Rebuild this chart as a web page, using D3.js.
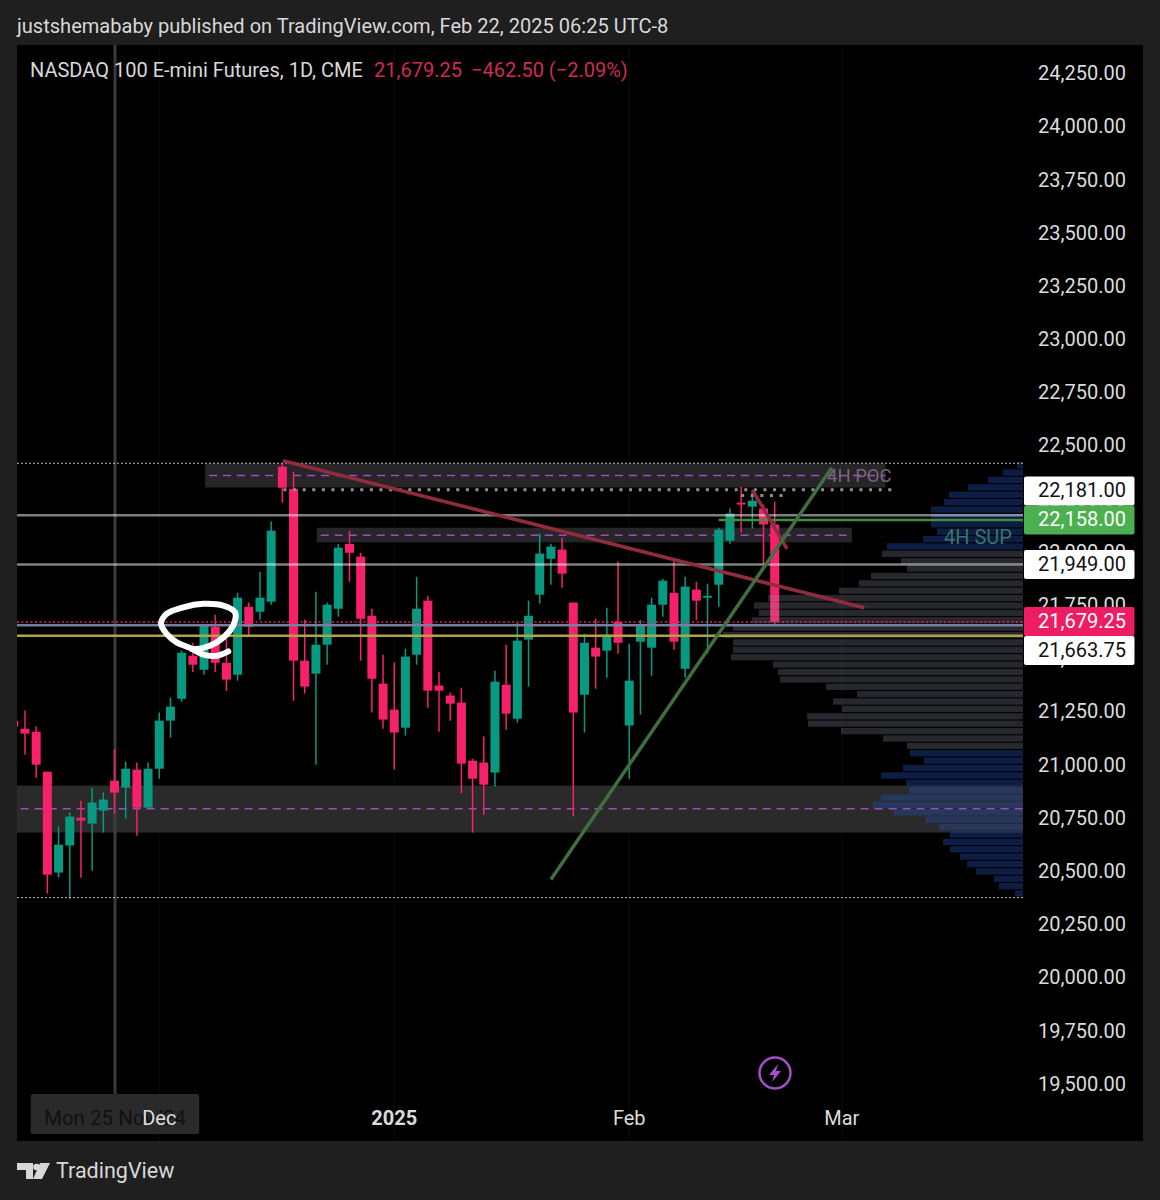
<!DOCTYPE html>
<html>
<head>
<meta charset="utf-8">
<script src="https://cdn.jsdelivr.net/npm/d3@7.9.0/dist/d3.min.js"></script>
<style>
  html, body { margin: 0; padding: 0; background: #1f1f1f; }
  svg { display: block; font-family: Roboto, sans-serif; }
</style>
</head>
<body>
<svg id="chart" width="1160" height="1200"></svg>
<script>
// daily candles: open, high, low, close
const opens = [21215,21177,21163,20975,20501,20628,20759,20731,20792,20933,20900,20985,20806,20989,21215,21318,21520,21454,21656,21487,21431,21750,21727,21774,22409,22305,21497,21436,21572,21741,22046,21986,21708,21389,21267,21182,21525,21779,21380,21333,21300,21027,21018,20971,21384,21224,21596,21807,21976,22019,21770,21337,21558,21544,21680,21192,21586,21558,21760,21816,21459,21831,21793,21854,22061,22240,22221,22212,22137];
const highs = [21215,21263,21187,20975,20717,20783,20839,20900,20877,21079,21022,21018,21018,21253,21323,21544,21581,21670,21713,21600,21816,21770,21915,22151,22423,22385,21690,21821,21770,22046,22108,22004,21741,21525,21488,21553,21891,21802,21445,21347,21370,21036,21140,21450,21572,21676,21779,22094,22047,22075,21770,21623,21694,21746,21962,21577,21689,21793,21882,21967,21891,21868,21859,22122,22212,22315,22296,22231,22245];
const lows = [21187,21055,20947,20402,20477,20378,20477,20510,20689,20778,20754,20674,20806,20942,21135,21304,21444,21431,21444,21355,21403,21614,21689,21760,22240,21309,21342,21008,21478,21704,21868,21497,21253,21177,20985,21145,21478,21276,21163,21215,20872,20689,20773,20905,21172,21206,21375,21765,21854,21840,20764,21159,21365,21417,21530,20942,21243,21426,21704,21548,21417,21689,21530,21751,22047,22099,22118,21948,21661];
const closes = [21187,21154,21008,20491,20632,20764,20745,20830,20844,20877,20989,20806,20989,21215,21281,21534,21478,21666,21487,21408,21793,21656,21793,22108,22310,21497,21375,21572,21760,22028,22004,21694,21412,21220,21159,21516,21741,21356,21356,21295,21013,20942,20914,21398,21248,21591,21708,22000,22033,21906,21253,21581,21516,21619,21581,21403,21661,21760,21873,21586,21845,21779,21802,22113,22188,22231,22249,22137,21679.25];

// volume profile rows, top to bottom
const profileTop = 22433;
const profileStep = 34.72;
const profileVolumes = [6,20,35,55,74,79,92,92,92,86,100,136,141,122,116,152,164,184,255,269,264,271,290,300,290,290,292,250,245,243,197,166,190,181,216,215,182,140,116,113,99,120,142,117,114,142,150,129,97,84,73,80,73,63,56,47,29,24,8];
const profileUpRows = 12;   // blue rows above the value area
const profileLowRows = 20;  // blue rows below it

// axis
const priceTicks = d3.range(19500, 24500, 250);
const timeLabels = [
  { label: 'Dec', index: 13, bold: false },
  { label: '2025', index: 34, bold: true },
  { label: 'Feb', index: 55, bold: false },
  { label: 'Mar', index: 74, bold: false }
];

// drawn levels and boxes
const levelWhite = [22181, 21949];
const levelGreen = 22158;
const levelLast = 21679.25;
const levelBlue = 21663.75;
const levelYellow = 21614;
const rangeHigh = 22425;
const rangeLow = 20383;
const pocDots = 22300;
const pocDots2 = 22273;
const zones = [
  { i0: 17.1, i1: 77.9, high: 22424, low: 22311, mid: 22367, fill: '#272527' },
  { i0: 27.07, i1: 74.9, high: 22122, low: 22053, mid: 22087, fill: '#272527' },
  { i0: -1, i1: 90.2, high: 20910, low: 20689, mid: 20801, fill: '#2a2a2a' }
];
const redTrend = [[24.06, 22437], [76.0, 21746]];
const redShort = [[66, 22300], [69.1, 22023]];
const greenTrend = [[48, 20468], [73.1, 22404]];
const scribble = [[19.17,21541],[18.13,21520],[16.94,21525],[15.75,21557],[14.56,21583],[13.66,21623],[13.16,21670],[13.66,21717],[15.15,21748],[16.94,21764],[18.72,21756],[19.77,21725],[19.77,21685],[19.32,21638],[18.13,21583],[16.94,21557],[15.9,21552]];
const priceLabels = [
  { text: '22,181.00', cy: 491, bg: '#ffffff', fg: '#111' },
  { text: '22,158.00', cy: 520, bg: '#4caf50', fg: '#fff' },
  { text: '21,949.00', cy: 564.5, bg: '#ffffff', fg: '#111' },
  { text: '21,663.75', cy: 650.5, bg: '#ffffff', fg: '#111' },
  { text: '21,679.25', cy: 621.5, bg: '#ee1d63', fg: '#fff' }
];

const up = '#089981', down = '#f7206a';
const plotLeft = 17, panelRight = 1143, plotTop = 45, plotBottom = 1141, plotRight = 1023;

const svg = d3.select('#chart');
const x = d3.scaleLinear().domain([0, 68]).range([13.8, 774.7]);
const y = d3.scaleLinear().domain([24250, 19500]).range([75, 1085.5]);

svg.append('defs').append('clipPath').attr('id', 'plot')
  .append('rect').attr('x', plotLeft).attr('y', plotTop)
  .attr('width', plotRight - plotLeft).attr('height', plotBottom - plotTop);

svg.append('rect').attr('x', plotLeft).attr('y', plotTop)
  .attr('width', panelRight - plotLeft).attr('height', plotBottom - plotTop).attr('fill', '#000');

const plot = svg.append('g').attr('clip-path', 'url(#plot)');

// faint month grid
plot.selectAll('.grid').data(timeLabels).join('line')
  .attr('x1', d => x(d.index)).attr('x2', d => x(d.index))
  .attr('y1', plotTop).attr('y2', plotBottom).attr('stroke', '#0b0b0b');

// boxes
plot.selectAll('.zone').data(zones).join('rect')
  .attr('x', d => x(d.i0)).attr('width', d => x(d.i1) - x(d.i0))
  .attr('y', d => y(d.high)).attr('height', d => y(d.low) - y(d.high))
  .attr('fill', d => d.fill);
plot.selectAll('.zoneMid').data(zones).join('line')
  .attr('x1', d => x(d.i0) + 4).attr('x2', d => x(d.i1))
  .attr('y1', d => y(d.mid)).attr('y2', d => y(d.mid))
  .attr('stroke', '#a04cc0').attr('stroke-width', 1.5).attr('stroke-dasharray', '8 6');

// crosshair
plot.append('line').attr('x1', 115).attr('x2', 115).attr('y1', plotTop).attr('y2', 1094)
  .attr('stroke', '#3a3a3a').attr('stroke-width', 3);

// candles
const candles = d3.range(opens.length).map(i => ({ i, o: opens[i], h: highs[i], l: lows[i], c: closes[i] }));
const colour = d => d.c >= d.o ? up : down;
plot.selectAll('.wick').data(candles).join('line')
  .attr('x1', d => x(d.i)).attr('x2', d => x(d.i))
  .attr('y1', d => y(d.h)).attr('y2', d => y(d.l))
  .attr('stroke', colour).attr('stroke-width', 1.5);
plot.selectAll('.body').data(candles).join('rect')
  .attr('x', d => x(d.i) - 4.5).attr('width', 9)
  .attr('y', d => y(Math.max(d.o, d.c)))
  .attr('height', d => Math.max(1.5, Math.abs(y(d.o) - y(d.c))))
  .attr('fill', colour);

// volume profile
const volX = d3.scaleLinear().domain([0, 300]).range([plotRight, plotRight - 300]);
plot.selectAll('.vol').data(profileVolumes).join('rect')
  .attr('x', d => volX(d)).attr('width', d => plotRight - volX(d))
  .attr('y', (d, i) => y(profileTop - i * profileStep) + 0.5)
  .attr('height', y(0) - y(profileStep) - 1.1)
  .attr('fill', (d, i) => (i < profileUpRows || i >= profileVolumes.length - profileLowRows)
    ? 'rgba(36,75,180,0.38)' : 'rgba(140,145,160,0.28)');

// level lines
plot.selectAll('.white').data(levelWhite).join('line')
  .attr('x1', plotLeft).attr('x2', plotRight).attr('y1', d => y(d)).attr('y2', d => y(d))
  .attr('stroke', 'rgba(255,255,255,0.5)').attr('stroke-width', 2.5);
plot.selectAll('.range').data([rangeHigh, rangeLow]).join('line')
  .attr('x1', plotLeft).attr('x2', plotRight).attr('y1', d => y(d)).attr('y2', d => y(d))
  .attr('stroke', '#bdbdbd').attr('stroke-width', 1).attr('stroke-dasharray', '2 2');
plot.append('line').attr('x1', x(24.1)).attr('x2', x(78.9)).attr('y1', y(pocDots)).attr('y2', y(pocDots))
  .attr('stroke', '#8f8f8f').attr('stroke-width', 3).attr('stroke-dasharray', '3 6.6');
plot.append('line').attr('x1', x(65)).attr('x2', x(68.7)).attr('y1', y(pocDots2)).attr('y2', y(pocDots2))
  .attr('stroke', '#8f8f8f').attr('stroke-width', 3).attr('stroke-dasharray', '3 6.6');
plot.append('line').attr('x1', x(63)).attr('x2', plotRight).attr('y1', y(levelGreen)).attr('y2', y(levelGreen))
  .attr('stroke', '#3f8f3f').attr('stroke-width', 2.5);
plot.append('line').attr('x1', plotLeft).attr('x2', plotRight).attr('y1', y(levelLast)).attr('y2', y(levelLast))
  .attr('stroke', '#ee1d63').attr('stroke-width', 1.5).attr('stroke-dasharray', '2 2.5');
plot.append('line').attr('x1', plotLeft).attr('x2', plotRight).attr('y1', y(levelBlue)).attr('y2', y(levelBlue))
  .attr('stroke', '#757ea3').attr('stroke-width', 2.5);
plot.append('line').attr('x1', plotLeft).attr('x2', plotRight).attr('y1', y(levelYellow)).attr('y2', y(levelYellow))
  .attr('stroke', '#b0a24a').attr('stroke-width', 2.5);

// trend lines
const line = d3.line().x(d => x(d[0])).y(d => y(d[1]));
plot.append('path').attr('d', line(redTrend)).attr('stroke', '#8f2c3e').attr('stroke-width', 3.5).attr('fill', 'none');
plot.append('path').attr('d', line(redShort)).attr('stroke', '#8f2c3e').attr('stroke-width', 3.5).attr('fill', 'none');
plot.append('path').attr('d', line(greenTrend)).attr('stroke', '#3f6f3f').attr('stroke-width', 3.5).attr('fill', 'none');
plot.append('path').attr('d', line.curve(d3.curveCatmullRom)(scribble))
  .attr('stroke', '#fff').attr('stroke-width', 6).attr('stroke-linecap', 'round').attr('fill', 'none');

// drawing captions
svg.append('text').attr('x', 827).attr('y', 482).attr('font-size', 18.5).attr('fill', '#77667c').text('4H POC');
svg.append('text').attr('x', 944).attr('y', 544).attr('font-size', 20).attr('fill', '#35756f').text('4H SUP');

// price axis
svg.selectAll('.tick').data(priceTicks).join('text')
  .attr('x', 1126).attr('y', d => y(d) - 2).attr('dy', '0.36em').attr('text-anchor', 'end')
  .attr('font-size', 20).attr('fill', '#dcdcdc').text(d => d3.format(',.2f')(d));

// price labels
const tags = svg.selectAll('.tag').data(priceLabels).join('g');
tags.append('rect').attr('x', 1024).attr('width', 110.5).attr('y', d => d.cy - 14.5).attr('height', 29)
  .attr('rx', 2).attr('fill', d => d.bg);
tags.append('text').attr('x', 1126).attr('y', d => d.cy - 1).attr('dy', '0.36em').attr('text-anchor', 'end')
  .attr('font-size', 20).attr('fill', d => d.fg).text(d => d.text);

// crosshair date box and time axis
svg.append('rect').attr('x', 30.7).attr('y', 1094).attr('width', 168.5).attr('height', 40).attr('rx', 2).attr('fill', '#2a2a2a');
svg.append('text').attr('x', 115).attr('y', 1118).attr('dy', '0.36em').attr('text-anchor', 'middle')
  .attr('font-size', 20.5).attr('fill', '#111').text("Mon 25 Nov '24");
svg.selectAll('.time').data(timeLabels).join('text')
  .attr('x', d => x(d.index)).attr('y', 1118).attr('dy', '0.36em').attr('text-anchor', 'middle')
  .attr('font-size', 20).attr('font-weight', d => d.bold ? 700 : 400).attr('fill', '#dcdcdc').text(d => d.label);

// lightning badge
svg.append('circle').attr('cx', 775).attr('cy', 1073).attr('r', 15.5)
  .attr('fill', 'none').attr('stroke', '#a64fc8').attr('stroke-width', 2.5);
svg.append('path').attr('transform', 'translate(775,1073)')
  .attr('d', 'M3,-9 L-6,2 L-1,2 L-3,9 L6,-2 L1,-2 Z').attr('fill', '#a64fc8');

// header
svg.append('text').attr('x', 17).attr('y', 33).attr('font-size', 20.06).attr('fill', '#d8d8d8')
  .text('justshemababy published on TradingView.com, Feb 22, 2025 06:25 UTC-8');
const legend = svg.append('text').attr('x', 30).attr('y', 77).attr('font-size', 20);
legend.append('tspan').attr('fill', '#d8d8d8').text('NASDAQ 100 E-mini Futures, 1D, CME');
legend.append('tspan').attr('x', 374).attr('fill', '#d02a55').text('21,679.25');
legend.append('tspan').attr('x', 471).attr('fill', '#d02a55').text('\u2212462.50 (\u22122.09%)');

// footer logo
svg.append('path').attr('fill', '#d8d8d8')
  .attr('d', 'M17,1163 h16 v16 h-7 v-9 h-9 Z M40,1163 h10 l-8,16 h-9 Z');
svg.append('circle').attr('cx', 36.5).attr('cy', 1167).attr('r', 3.3).attr('fill', '#d8d8d8');
svg.append('text').attr('x', 56).attr('y', 1178).attr('font-size', 21.5).attr('fill', '#d8d8d8').text('TradingView');
</script>
</body>
</html>
